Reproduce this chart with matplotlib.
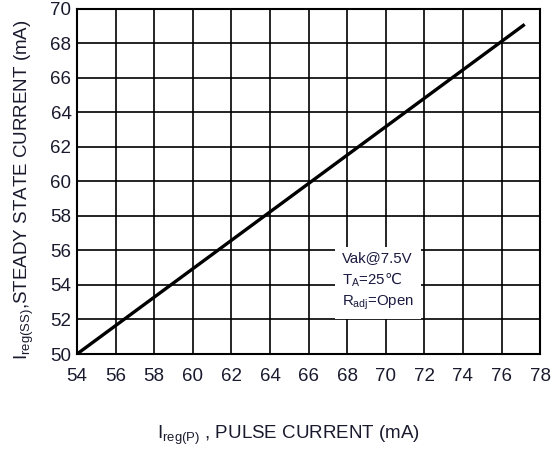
import matplotlib
matplotlib.use("Agg")
import matplotlib.pyplot as plt

plt.rcParams['font.family'] = ['Liberation Sans', 'DejaVu Sans']
plt.rcParams['mathtext.fontset'] = 'custom'
plt.rcParams['mathtext.rm'] = 'Liberation Sans'
plt.rcParams['mathtext.it'] = 'Liberation Sans'
plt.rcParams['mathtext.sf'] = 'DejaVu Sans'

# Data
pulse_current = [54.0, 77.2]
steady_current = [50.0, 69.1]
x_ticks = [54, 56, 58, 60, 62, 64, 66, 68, 70, 72, 74, 76, 78]
y_ticks = [50, 52, 54, 56, 58, 60, 62, 64, 66, 68, 70]
note_lines = ["Vak@7.5V", r"T$_{\mathrm{A}}$=25$\mathsf{℃}$", r"R$_{\mathrm{adj}}$=Open"]

fig = plt.figure(figsize=(5.6, 4.5), dpi=100)
ax = fig.add_axes([0.1375, 0.2133, 0.827, 0.767])

ax.set_xlim(54, 78)
ax.set_ylim(50, 70)
ax.set_xticks(x_ticks)
ax.set_yticks(y_ticks)
ax.grid(True, color='black', linewidth=1.2)
ax.set_axisbelow(True)
for s in ax.spines.values():
    s.set_linewidth(1.5)
ax.tick_params(length=0, labelsize=13.5, colors='#1a1a2e')
ax.tick_params(axis='x', pad=10)
ax.tick_params(axis='y', pad=4)

ax.plot(pulse_current, steady_current, color='black', linewidth=2.4,
        solid_capstyle='butt', zorder=3)

ax.text(67.74, 55.97, "\n".join(note_lines), fontsize=10.8, color='#1a1a40',
        va='top', ha='left', linespacing=1.4,
        bbox=dict(facecolor='white', edgecolor='none', pad=5), zorder=4)

fig.text(0.516, 0.024, r"I$_{\mathrm{reg(P)}}$ , PULSE CURRENT (mA)", fontsize=13.5,
         ha='center', va='baseline', color='#1a1a2e')
fig.text(0.044, 0.578, r"I$_{\mathrm{reg(SS)}}$,STEADY STATE CURRENT (mA)", fontsize=13.5,
         ha='center', va='center', rotation=90, color='#1a1a2e')

fig.savefig("out.png", dpi=100)
